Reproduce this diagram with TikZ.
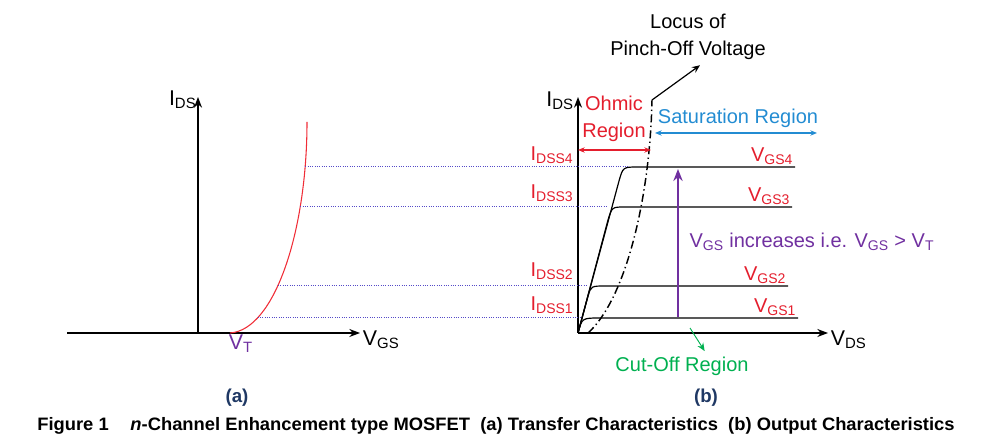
\documentclass[tikz,border=0pt]{standalone}
\usepackage{fontspec}
\setmainfont{Liberation Sans}
\usepackage{tikz}
\usetikzlibrary{positioning,arrows.meta}

\definecolor{CurveRed}{RGB}{240,45,55}
\definecolor{LabelRed}{RGB}{228,30,45}
\definecolor{SatBlue}{RGB}{35,140,210}
\definecolor{RisePurple}{RGB}{112,48,160}
\definecolor{GuideBlue}{RGB}{85,75,200}
\definecolor{CutGreen}{RGB}{0,176,80}
\definecolor{PanelBlue}{RGB}{31,56,100}

\newcommand{\sbs}[2]{#1\textsubscript{#2}}

\begin{document}
\begin{tikzpicture}[x=0.75pt, y=-0.75pt]
   \tikzset{
     axis/.style      = { line width = 1.1pt,
                          -{Stealth[length = 8pt, width = 6pt]} },
     axislabel/.style = { font = \fontsize{16}{19}\selectfont, inner sep = 1pt },
     transfer/.style  = { CurveRed, line width = 0.8pt },
     output/.style    = { black, line width = 0.9pt },
     guide/.style     = { GuideBlue, densely dotted, line width = 0.75pt },
     locus/.style     = { black, line width = 1.1pt,
                          dash pattern = on 6pt off 2.5pt on 1pt off 2.5pt },
     note/.style      = { font = \fontsize{15}{20}\selectfont, inner sep = 1pt,
                          align = center },
     idss/.style      = { LabelRed, font = \fontsize{15}{18}\selectfont,
                          inner sep = 1pt, anchor = east },
     vgs/.style       = { LabelRed, font = \fontsize{15}{18}\selectfont,
                          inner sep = 1pt, anchor = south east },
     span/.style      = { line width = 0.8pt,
                          {Stealth[length = 5pt, width = 4pt]}-{Stealth[length = 5pt, width = 4pt]} },
     pointer/.style   = { line width = 0.9pt, -{Stealth[length = 6pt, width = 5pt]} },
     panel/.style     = { PanelBlue, font = \fontsize{14}{17}\selectfont\bfseries },
  }
  \useasboundingbox (0,0) rectangle (992,448);

  % (a) transfer characteristics
  \coordinate (LeftA)   at (67,333);
  \coordinate (OriginA) at (198,333);
  \coordinate (XTipA)   at (360,333);
  \coordinate (YTipA)   at (198,97);
  \coordinate (VT)      at (230,333);

  \draw[axis] (LeftA) -- (XTipA);
  \draw[axis] (OriginA) -- (YTipA);
  \node[axislabel, right = 1pt of XTipA, yshift = -5pt] (VgsA) {\sbs{V}{GS}};
  \node[axislabel, left = 0pt of YTipA, yshift = -2pt] (IdsA) {\sbs{I}{DS}};
  \node[axislabel, RisePurple, below right = 0pt and -2pt of VT] (VtA) {\sbs{V}{T}};

  \draw[transfer] (VT) .. controls (275,330) and (307,230) .. (307,122)
    coordinate[pos = 0.22]  (T1)
    coordinate[pos = 0.415] (T2)
    coordinate[pos = 0.728] (T3)
    coordinate[pos = 0.86]  (T4);

  % (b) output characteristics
  \coordinate (OriginB) at (578,333);
  \coordinate (XTipB)   at (828,333);
  \coordinate (YTipB)   at (578,97);

  \draw[axis] (OriginB) -- (XTipB);
  \draw[axis] (OriginB) -- (YTipB);
  \node[axislabel, right = 1pt of XTipB, yshift = -5pt] (VdsB) {\sbs{V}{DS}};
  \node[axislabel, left = 2pt of YTipB, yshift = -3pt] (IdsB) {\sbs{I}{DS}};

  \draw[output] (OriginB) .. controls (582,318) .. (600,318) -- (798,318)
    node[vgs] (Vgs1) {\sbs{V}{GS1}};
  \draw[output] (OriginB) -- (588,296) .. controls (591,286) .. (606,286) -- (788,286)
    node[vgs] (Vgs2) {\sbs{V}{GS2}};
  \draw[output] (OriginB) -- (608,220) .. controls (612,207) .. (625,207) -- (792,207)
    node[vgs] (Vgs3) {\sbs{V}{GS3}};
  \draw[output] (OriginB) -- (619,181) .. controls (623,167) .. (638,167) -- (795,167)
    node[vgs] (Vgs4) {\sbs{V}{GS4}};

  \coordinate (K1) at (581,318);
  \coordinate (K2) at (588,286);
  \coordinate (K3) at (608,207);
  \coordinate (K4) at (628,167);
  \foreach \k in {1,...,4}
    \draw[guide] (T\k |- K\k) -- (K\k);

  \node[idss] (Idss1) at (575,305) {\sbs{I}{DSS1}};
  \node[idss] (Idss2) at (575,271) {\sbs{I}{DSS2}};
  \node[idss] (Idss3) at (575,193) {\sbs{I}{DSS3}};
  \node[idss] (Idss4) at (575,155) {\sbs{I}{DSS4}};

  % pinch-off locus
  \coordinate (LocusBase) at (588,333);
  \coordinate (LocusTop)  at (652,100);
  \draw[locus] (LocusBase) .. controls (625,300) and (650,200) .. (LocusTop);
  \node[note] (Locus) at (688,37) {Locus of\\Pinch-Off Voltage};
  \draw[pointer] (LocusTop) -- ([xshift = 9pt, yshift = -3pt]Locus.south);

  % regions
  \node[note, LabelRed] (Ohmic) at (614,119) {Ohmic\\Region};
  \coordinate (OhmicEnd) at (651,150);
  \draw[span, LabelRed] (OriginB |- OhmicEnd) -- (OhmicEnd);

  \node[note, SatBlue] (Saturation) at (738,118) {Saturation Region};
  \coordinate (SatLeft)  at (655,133);
  \coordinate (SatRight) at (817,133);
  \draw[span, SatBlue] (SatLeft) -- (SatRight);

  \coordinate (RiseLow)  at (678,317);
  \coordinate (RiseHigh) at (678,169);
  \draw[RisePurple, line width = 1.6pt, -{Stealth[length = 9pt, width = 7pt]}] (RiseLow) -- (RiseHigh);
  \node[note, RisePurple, anchor = west] (Rise) at (688,242)
    {\sbs{V}{GS} increases i.e. \sbs{V}{GS} > \sbs{V}{T}};

  \node[note, CutGreen] (CutOff) at (682,366) {Cut-Off Region};
  \coordinate (CutStart) at (690,328);
  \draw[pointer, CutGreen, line width = 0.7pt] (CutStart) -- ([xshift = 17pt, yshift = 3pt]CutOff.north);

  % captions
  \node[panel] (LabelA) at (237,398) {(a)};
  \node[panel] (LabelB) at (706,398) {(b)};
  \node[font = \fontsize{13.5}{16}\selectfont\bfseries] (Caption) at (496,426)
    {\resizebox{688pt}{\height}{Figure 1\hspace{16pt}\textit{n}-Channel Enhancement type MOSFET\ \ (a) Transfer Characteristics\ \ (b) Output Characteristics}};

\end{tikzpicture}
\end{document}
